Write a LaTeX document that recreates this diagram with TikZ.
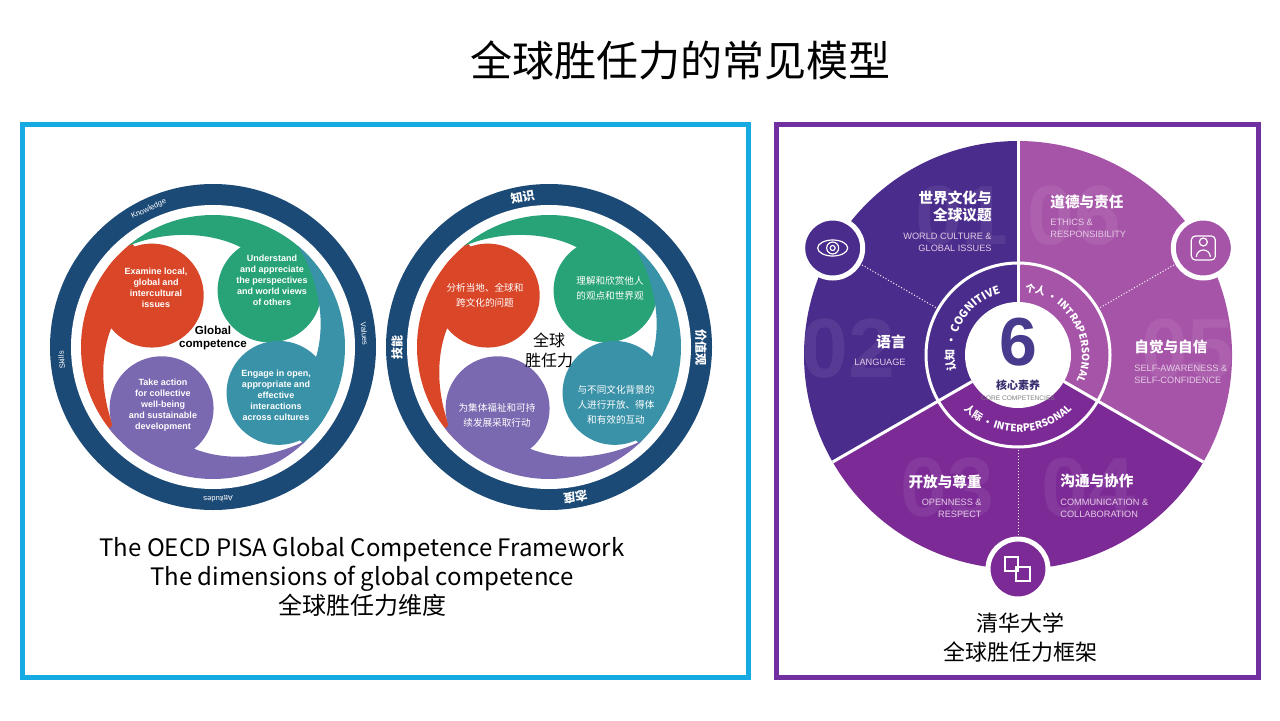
\documentclass[tikz,border=0pt]{standalone}
\usepackage{fontspec}
\setmainfont{Noto Sans CJK SC}
\newfontfamily\arialfont{Liberation Sans}
\usetikzlibrary{positioning,decorations.text}

\definecolor{framebl}{RGB}{22,170,226}
\definecolor{framepu}{RGB}{112,48,160}
\definecolor{ringbl}{RGB}{28,74,118}
\definecolor{petred}{RGB}{217,70,40}
\definecolor{petgreen}{RGB}{40,163,120}
\definecolor{petteal}{RGB}{58,146,168}
\definecolor{petpurple}{RGB}{122,104,176}
\definecolor{cogcol}{RGB}{74,44,140}
\definecolor{intracol}{RGB}{166,84,168}
\definecolor{intercol}{RGB}{124,42,150}
\definecolor{sixcol}{RGB}{72,58,140}

% one swirl petal: colour, angle
\newcommand{\petal}[2]{%
  \fill[#1] (#2:80) circle (52);
  \fill[#1] (#2-12:132) arc[start angle=#2-12, end angle=#2+85, radius=132]
    .. controls (#2+65:126) and (#2+40:116) .. (#2+20:100) -- (#2:90) -- (#2-12:118) -- cycle;
}

\begin{document}
\begin{tikzpicture}[x=0.5pt, y=0.5pt,
    petaltxt/.style={text=white, align=center, font=\arialfont\bfseries\fontsize{4.5}{5.5}\selectfont},
    petalzh/.style={text=white, align=center, font=\fontsize{4.8}{7.4}\selectfont},
    ringtxt/.style={text=white, font=\arialfont\fontsize{3.8}{4}\selectfont},
    ringzh/.style={text=white, font=\bfseries\fontsize{6}{6}\selectfont},
    caption/.style={align=center, font=\fontsize{12}{14.5}\selectfont},
    zhhead/.style={text=white, inner sep=0pt, font=\bfseries\fontsize{7.3}{8.6}\selectfont},
    enline/.style={text=white!80!violet, inner sep=0pt, font=\arialfont\fontsize{4.6}{6}\selectfont},
    bignum/.style={text=white, opacity=0.07, font=\arialfont\bfseries\fontsize{42}{42}\selectfont},
    icon/.style={circle, draw=white, line width=2.5pt, minimum size=30pt}
]
\useasboundingbox (0,0) rectangle (1280,720);
\fill[white] (0,0) rectangle (1280,720);

% Title
\node (title) at (680,660) {\fontsize{21}{24}\selectfont 全球胜任力的常见模型};

% Frames
\draw[framebl, line width=2.5pt] (22,43) rectangle (748,596);
\draw[framepu, line width=2.5pt] (776,43) rectangle (1258,596);

% OECD circle (English)
\begin{scope}[shift={(213,373)}]
  \fill[ringbl] (0,0) circle (163);
  \fill[white] (0,0) circle (142);
  \petal{petred}{140}
  \petal{petgreen}{45}
  \petal{petteal}{-35}
  \petal{petpurple}{230}
  \node[ringtxt, rotate=25] (know) at (115:152) {Knowledge};
  \node[ringtxt, rotate=-85] (vals) at (5:152) {Values};
  \node[ringtxt, rotate=182] (atti) at (272:152) {Attitudes};
  \node[ringtxt, rotate=95] (skil) at (185:152) {Skills};
\end{scope}
\node[font=\arialfont\bfseries\fontsize{5.8}{6.8}\selectfont, align=center] (gc) at (213,382) {Global\\competence};
\node[petaltxt] (ex) at (156,432) {Examine local,\\global and\\intercultural\\issues};
\node[petaltxt] (un) at (272,440) {Understand\\and appreciate\\the perspectives\\and world views\\of others};
\node[petaltxt] (en) at (276,325) {Engage in open,\\appropriate and\\effective\\interactions\\across cultures};
\node[petaltxt] (ta) at (163,315) {Take action\\for collective\\well-being\\and sustainable\\development};

% OECD circle (Chinese)
\begin{scope}[shift={(549,373)}]
  \fill[ringbl] (0,0) circle (163);
  \fill[white] (0,0) circle (142);
  \petal{petred}{140}
  \petal{petgreen}{45}
  \petal{petteal}{-35}
  \petal{petpurple}{230}
  \node[ringzh, rotate=10] (zs) at (100:152) {知识};
  \node[ringzh, rotate=-90] (jz) at (0:152) {价值观};
  \node[ringzh, rotate=190] (td) at (280:152) {态度};
  \node[ringzh, rotate=90] (jn) at (180:152) {技能};
\end{scope}
\node[align=center, font=\fontsize{8}{10}\selectfont] (qq) at (549,370) {全球\\胜任力};
\node[petalzh] (fx) at (485,425) {分析当地、全球和\\跨文化的问题};
\node[petalzh] (lj) at (610,432) {理解和欣赏他人\\的观点和世界观};
\node[petalzh] (yb) at (616,315) {与不同文化背景的\\人进行开放、得体\\和有效的互动};
\node[petalzh] (wj) at (497,305) {为集体福祉和可持\\续发展采取行动};

% Left caption
\node[caption] (capl) at (362,143) {The OECD PISA Global Competence Framework\\The dimensions of global competence\\全球胜任力维度};

% Tsinghua wheel
\begin{scope}[shift={(1018,365)}]
  \fill[cogcol] (0,0) -- (90:214) arc[start angle=90, end angle=210, radius=214] -- cycle;
  \fill[intercol] (0,0) -- (210:214) arc[start angle=210, end angle=330, radius=214] -- cycle;
  \fill[intracol] (0,0) -- (-30:214) arc[start angle=-30, end angle=90, radius=214] -- cycle;
  % faint numbers
  \node[bignum] (n1) at (112:150) {01};
  \node[bignum] (n2) at (178:170) {02};
  \node[bignum] (n3) at (242:150) {03};
  \node[bignum] (n4) at (298:150) {04};
  \node[bignum] (n5) at (2:170) {05};
  \node[bignum] (n6) at (68:150) {06};
  % separators
  \foreach \a in {30,150,270}
    \draw[white, densely dotted, line width=0.5pt] (\a:92) -- (\a:214);
  \foreach \a in {90,210,330}
    \draw[white, line width=1.5pt] (\a:53) -- (\a:214);
  \draw[white, line width=1.5pt] (0,0) circle (92);
  \fill[white] (0,0) circle (53);
  % ring texts
  \path[decorate, decoration={text along path, text align=center, text color=white,
    text={|\bfseries\fontsize{5.5}{6}\selectfont|认知 · COGNITIVE}}]
    (205:64) arc[start angle=205, end angle=95, radius=64];
  \path[decorate, decoration={text along path, text align=center, text color=white,
    text={|\bfseries\fontsize{5}{6}\selectfont|个人 · INTRAPERSONAL}}]
    (88:64) arc[start angle=88, end angle=-28, radius=64];
  \path[decorate, decoration={text along path, text align=center, text color=white,
    text={|\bfseries\fontsize{5}{6}\selectfont|人际 · INTERPERSONAL}}]
    (212:77) arc[start angle=212, end angle=328, radius=77];
  % icons
  \node[icon, fill=cogcol] (eye) at (150:214) {};
  \node[icon, fill=intracol] (port) at (30:214) {};
  \node[icon, fill=intercol] (chat) at (270:214) {};
\end{scope}
% icon glyphs
\draw[white, line width=0.6pt] (eye.center) ellipse (15 and 8);
\draw[white, line width=0.6pt] (eye.center) circle (6);
\draw[white, line width=0.6pt] (eye.center) circle (2.5);
\draw[white, line width=0.6pt, rounded corners=2pt] ([shift={(-12,-12)}]port.center) rectangle ([shift={(12,12)}]port.center);
\draw[white, line width=0.6pt] ([yshift=3]port.center) circle (4);
\draw[white, line width=0.6pt] ([shift={(-7,-9)}]port.center) arc[start angle=180, end angle=0, radius=7];
\draw[white, line width=0.6pt] ([shift={(-13,-2)}]chat.center) rectangle ([shift={(0,12)}]chat.center);
\draw[white, line width=0.6pt] ([shift={(-2,-12)}]chat.center) rectangle ([shift={(12,2)}]chat.center);

% center label
\node[text=sixcol, font=\arialfont\bfseries\fontsize{34}{34}\selectfont] (six) at (1018,378) {6};
\node[text=sixcol!80!black, font=\bfseries\fontsize{5.5}{6}\selectfont] (hx) at (1018,335) {核心素养};
\node[text=gray, font=\arialfont\fontsize{3.3}{4}\selectfont] (cc) at (1018,322) {CORE COMPETENCIES};

% sector labels
\node[zhhead, anchor=north east, align=right] (wc) at (992,530) {世界文化与\\全球议题};
\node[enline, below=5pt of wc.south east, anchor=north east, align=right] (wcen) {WORLD CULTURE \&\\GLOBAL ISSUES};
\node[zhhead, anchor=north west] (et) at (1050,526) {道德与责任};
\node[enline, below=5pt of et.south west, anchor=north west, align=left] (eten) {ETHICS \&\\RESPONSIBILITY};
\node[zhhead, anchor=north east] (ly) at (906,386) {语言};
\node[enline, below=5pt of ly.south east, anchor=north east] (lyen) {LANGUAGE};
\node[zhhead, anchor=north west] (zj) at (1134,380) {自觉与自信};
\node[enline, below=5pt of zj.south west, anchor=north west, align=left] (zjen) {SELF-AWARENESS \&\\SELF-CONFIDENCE};
\node[zhhead, anchor=north east] (kf) at (982,246) {开放与尊重};
\node[enline, below=5pt of kf.south east, anchor=north east, align=right] (kfen) {OPENNESS \&\\RESPECT};
\node[zhhead, anchor=north west] (gt) at (1060,246) {沟通与协作};
\node[enline, below=5pt of gt.south west, anchor=north west, align=left] (gten) {COMMUNICATION \&\\COLLABORATION};

% Right caption
\node[caption, font=\fontsize{11}{14.5}\selectfont] (capr) at (1020,82) {清华大学\\全球胜任力框架};
\end{tikzpicture}
\end{document}
